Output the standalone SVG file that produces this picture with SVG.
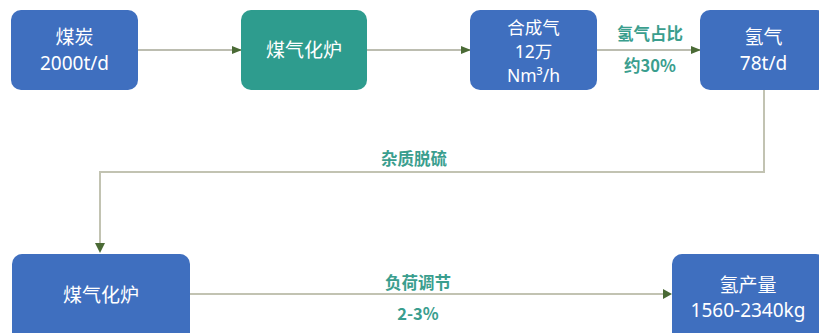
<svg xmlns="http://www.w3.org/2000/svg" width="819" height="333" viewBox="0 0 819 333">
<defs>
<marker id="arr" markerWidth="10" markerHeight="8" refX="9" refY="4" orient="auto" markerUnits="userSpaceOnUse">
<path d="M0,0 L10,4 L0,8 Z" fill="#4a6a35"/>
</marker>
<style>
.blue{fill:#3f6fbf}
.teal{fill:#2e9c8e}
.t{font-family:"Noto Sans","Noto Sans CJK SC",sans-serif;font-size:19px;fill:#ffffff;text-anchor:middle;dominant-baseline:central}
.s{font-size:17.5px}
.lbl{font-family:"Noto Sans CJK SC",sans-serif;font-size:16.5px;font-weight:bold;fill:#3a9e8e;text-anchor:middle;dominant-baseline:central}
.ln{fill:none;stroke:#7a7d62;stroke-width:1.2}
.ln2{fill:none;stroke:#c2c3b2;stroke-width:2}
</style>
</defs>
<rect width="819" height="333" fill="#ffffff"/>
<g id="connectors">
<line class="ln" x1="138" y1="50" x2="241" y2="50" marker-end="url(#arr)"/>
<line class="ln" x1="367" y1="50" x2="470" y2="50" marker-end="url(#arr)"/>
<line class="ln" x1="597" y1="50" x2="700" y2="50" marker-end="url(#arr)"/>
<polyline class="ln2" points="764,90 764,172 100,172 100,247"/>
<path d="M95,243 L105,243 L100,253 Z" fill="#4a6a35"/>
<line class="ln2" x1="190" y1="294" x2="666" y2="294"/>
<path d="M663,289 L672,294 L663,299 Z" fill="#4a6a35"/>
<text class="lbl" x="650" y="33">氢气占比</text>
<text class="lbl" x="650" y="65">约30%</text>
<text class="lbl" x="414" y="158">杂质脱硫</text>
<text class="lbl" x="418" y="282">负荷调节</text>
<text class="lbl" x="418" y="313">2-3%</text>
</g>
<g id="coal">
<rect class="blue" x="11" y="10" width="127" height="80" rx="10"/>
<text class="t" x="74.5" y="37">煤炭</text>
<text class="t" x="74.5" y="63">2000t/d</text>
</g>
<g id="gasifier1">
<rect class="teal" x="241" y="10" width="126" height="80" rx="10"/>
<text class="t" x="304" y="50">煤气化炉</text>
</g>
<g id="syngas">
<rect class="blue" x="470" y="10" width="127" height="80" rx="10"/>
<text class="t s" x="533.5" y="27">合成气</text>
<text class="t s" x="533.5" y="51">12万</text>
<text class="t s" x="533.5" y="75">Nm³/h</text>
</g>
<g id="hydrogen">
<rect class="blue" x="700" y="10" width="127" height="80" rx="10"/>
<text class="t" x="763.5" y="37">氢气</text>
<text class="t" x="763.5" y="63">78t/d</text>
</g>
<g id="gasifier2">
<rect class="blue" x="12" y="254" width="178" height="90" rx="10"/>
<text class="t" x="101" y="295">煤气化炉</text>
</g>
<g id="output">
<rect class="blue" x="672" y="254" width="154" height="90" rx="10"/>
<text class="t" x="748" y="285">氢产量</text>
<text class="t" x="748" y="310">1560-2340kg</text>
</g>
</svg>
